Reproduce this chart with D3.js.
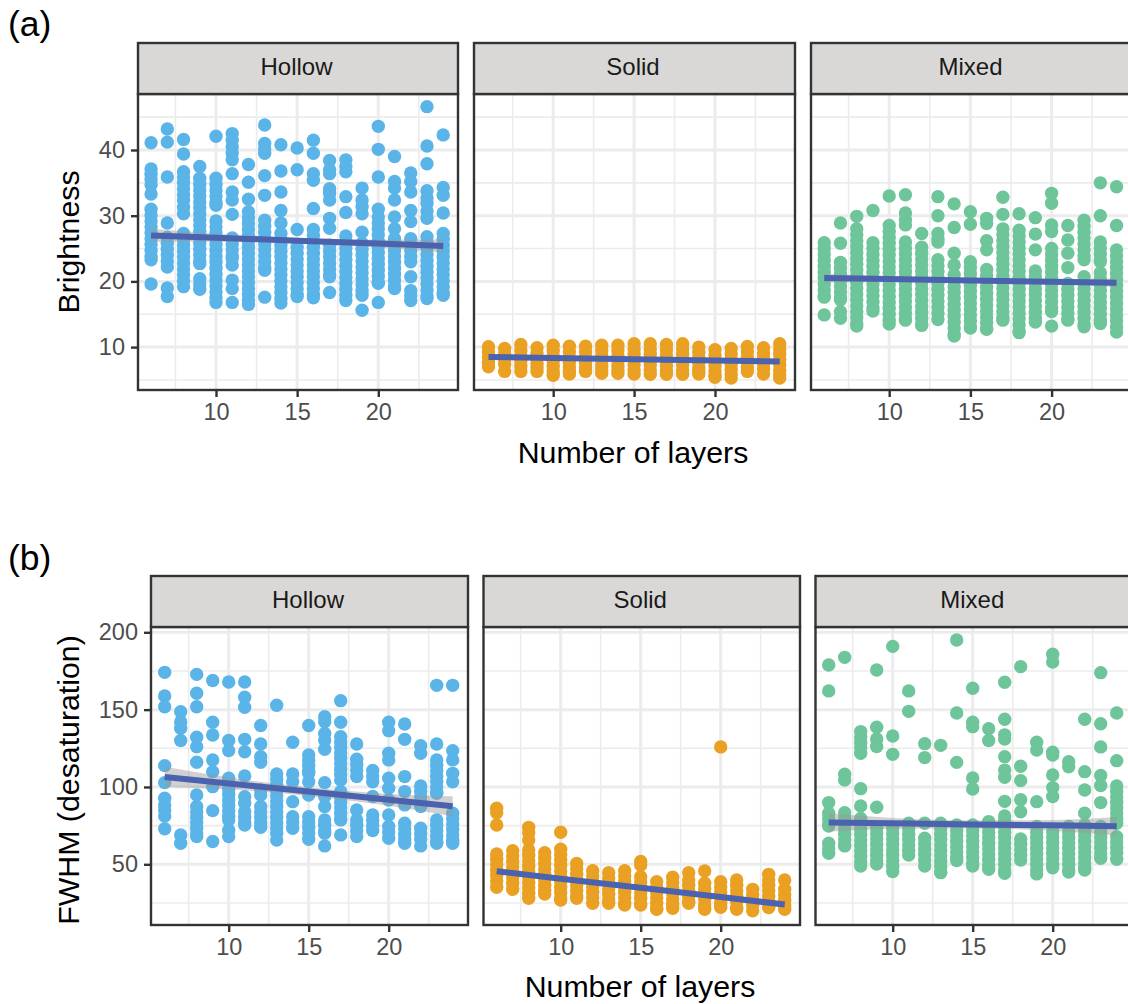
<!DOCTYPE html>
<html><head><meta charset="utf-8">
<script src="https://cdn.jsdelivr.net/npm/d3@7/dist/d3.min.js"></script>
<style>html,body{margin:0;padding:0;background:#fff}svg{display:block}text{font-family:"Liberation Sans",Arial,sans-serif}</style>
</head><body><svg id="c" width="1128" height="1004"></svg>
<script>
const layers=[6,7,8,9,10,11,12,13,14,15,16,17,18,19,20,21,22,23,24];
const xTicks=[10,15,20];
const xMinor=[7.5,12.5,17.5,22.5];
const brightnessTicks=[10,20,30,40];
const brightnessMinor=[5,15,25,35,45];
const fwhmTicks=[50,100,150,200];
const fwhmMinor=[25,75,125,175];
const shapes=["Hollow","Solid","Mixed"];
const shapeColors=["#5AB4E8","#E9A023","#6EC59A"];

const brightnessHollow=[
[41.1,37.1,36.3,35.5,34.7,33.3,31,30.1,29.2,28.3,27.4,26.5,25.6,24.7,23.8,23.3,19.6],
[43.2,41.2,35.9,28.9,26.7,25.8,24.9,24,23.1,22.2,19,17.7],
[41.6,39.4,36.7,35.9,35,34.1,33.2,32.4,31.3,30.3,27.3,26.4,25.5,24.6,23.7,22.8,21.9,21,20.1,19.2],
[37.5,35.7,34.8,33.9,33,32.1,31.2,30.3,29.4,28.5,27.6,26.7,25.8,24.9,24,23.1,22.7,20.4,19.6,18.8],
[42.1,35.7,34.8,33.9,33,32.1,31.6,29.2,28.3,27.4,26.5,25.6,24.7,23.8,22.9,22,21.1,20.2,19.3,18.4,17.5,16.8],
[42.5,41.5,40.5,39.5,38.5,36.4,33.6,32.4,30.2,26.6,25.7,24.8,23.9,23.5,22.5,20.2,18.9,16.8],
[37.8,35.1,32.5,30.6,29.7,28.8,27.9,27,26.1,25.2,24.3,23.4,22.5,21.6,20.7,19.8,18.9,18,17.1,16.5],
[43.8,41,40.2,39.5,36.1,33.1,29.3,28.4,27.5,26.6,25.7,24.8,23.9,23,22.1,21.7,17.6],
[40.8,36.8,33.6,30.8,28.9,27.3,26.4,25.5,24.6,23.7,22.8,21.9,21,20.1,19.2,18.3,17.4,16.7],
[40.3,37,27.9,25.2,24.3,23.4,22.5,21.6,20.7,19.8,18.9,18.1,17.7],
[41.5,39.5,36.4,35.4,31.1,27.9,27,26.1,25.2,24.3,23.4,22.5,21.6,20.7,19.8,18.9,18,17.5],
[38.4,37,36.4,34.1,33.4,32.4,29.6,28.1,25.5,24.6,23.7,22.8,21.9,21,20.7,18.3],
[38.5,37.5,36.7,32.9,30.5,26.9,26,25.1,24.2,23.3,22.4,21.5,20.6,19.7,18.8,17.9,17.1],
[34.2,32.4,31.4,30.3,27.5,25.8,24.9,24,23.1,22.2,21.3,20.4,19.5,18.6,17.9,15.6],
[43.6,40.1,35.9,31,29.8,28.9,28,27.1,26.2,25.3,24.4,23.5,22.6,21.7,20.8,19.9,19.7,16.8],
[39,35.2,34.2,32.4,29.8,28,26.5,25.6,24.7,23.8,22.9,22,21.1,20.2,19.3,18.9],
[36.5,35.2,33.6,30.8,29.1,26.5,25.6,24.7,23.8,23,20.7,18.6,17.8,17.1],
[46.6,40.6,37.9,33.8,32.7,31.9,30.7,29.6,26.8,25.9,25,24.1,23.2,22.3,21.4,20.5,19.6,18.7,17.8,17.4],
[42.3,34.3,33.1,30.4,27.3,26.4,25.5,24.6,23.7,22.8,21.9,21,20.1,19.2,18.3,17.9]];

const brightnessSolid=[
[10.06,9.3,8.5,7.7,7],
[9.8,9,8.2,7.4,6.3],
[10.4,9.5,8.7,7.9,7.1,6.3],
[9.9,9.1,8.3,7.5,6.9,6.3],
[10.3,9.5,8.7,7.9,7.1,6.3,5.7],
[10.15,9.3,8.5,7.7,6.9,6.3,5.9],
[10.15,9.3,8.5,7.7,6.9,6.3],
[10.3,9.5,8.7,7.9,7.1,6.5,6],
[10.3,9.5,8.7,7.9,7.1,6.5,6],
[10.5,9.7,8.9,8.1,7.3,6.5,5.9],
[10.5,9.7,8.9,8.1,7.3,6.5,5.85],
[10.4,9.6,8.8,8,7.2,6.4,5.85],
[10.5,9.7,8.9,8.1,7.3,6.5,5.85],
[10,9.2,8.4,7.6,6.8,6.3,5.9],
[9.6,8.8,8,7.2,6.4,5.8,5.4],
[9.8,9,8.2,7.4,6.6,5.9,5.3],
[10.1,9.3,8.5,7.7,6.9,6.3],
[9.9,9.1,8.3,7.5,6.7,5.9],
[10.5,9.7,8.9,8.1,7.3,6.5,5.8,5.3]];

const brightnessMixed=[
[25.9,25,24.1,23.2,22.3,21.4,20.5,19.6,18.7,17.8,17.6,14.9],
[28.9,25.8,22.9,22,21.1,20.2,19.3,18.4,17.5,17.2,15.4,14.4],
[29.9,28,27.1,26.2,25.3,24.4,23.5,22.6,21.7,20.8,19.9,19,18.1,17.2,16.3,15.4,14.5,13.6,13.2],
[30.8,25.9,25,24.1,23.2,22.3,21.4,20.5,19.6,18.7,17.8,16.9,16,15.5],
[33,28.5,27.6,26.7,25.8,24.9,24,23.1,22.2,21.3,20.4,19.5,18.6,17.7,16.8,15.9,15,14.1,13.5],
[33.2,30.4,29.4,28.6,26,25.1,24.2,23.3,22.4,21.5,20.6,19.7,18.8,17.9,17,16.1,15.2,14.3,14.1],
[27.3,25.2,24.3,23.4,22.5,21.6,20.7,19.8,18.9,18,17.1,16.2,15.3,14.4,13.5,13.3],
[32.9,30,27.3,26.4,26,23.3,22.4,21.5,20.6,19.7,18.8,17.9,17,16.1,15.2,14.2],
[31.8,28.2,24.3,22.5,21,20.1,19.2,18.3,17.4,16.5,15.6,14.7,13.8,12.9,12,11.7],
[30.6,28.7,23,22.1,21.2,20.3,19.4,18.5,17.6,16.7,15.8,14.9,14,13.1,12.9],
[29.6,28.8,26.2,24.8,21.8,20.9,20,19.1,18.2,17.3,16.4,15.5,14.6,13.7,12.8,12.7],
[32.8,30.2,28,27.1,26.2,25.3,24.4,23.5,22.6,21.7,20.8,19.9,19,18.1,17.2,16.3,15.4,14.5,14.1],
[30.3,27.8,26.9,26,25.1,24.2,23.3,22.4,21.5,20.6,19.7,18.8,17.9,17,16.1,15.2,14.3,13.4,12.5,12.2],
[29.7,27.2,24.8,21.6,20.7,19.8,18.9,18,17.1,16.2,15.3,14.4,13.8],
[33.4,31.9,28.6,27.6,25,24.1,23.2,22.3,21.4,20.5,19.6,18.7,17.8,16.9,16,15.4,13.2],
[28.5,26.3,24.3,22.1,19.7,18.8,17.9,17,16.1,15.2,14.3,14.1],
[29.3,28.4,27.5,26.6,25.7,24.8,23.9,23.3,20.7,19.8,18.9,18,17.1,16.2,15.3,14.4,13.5,13.1],
[35,30,26,25.1,24.2,23.3,23,21.3,20.4,19.5,18.6,17.7,16.8,15.9,15,14.1,13.6],
[34.4,28.5,24.8,23.9,23,22.1,21.2,20.3,19.4,18.5,17.6,16.7,15.8,14.9,14,13.1,12.3]];

const fwhmHollow=[
[174.1,158.8,151.9,113.8,102.8,92.7,88.4,85.1,81.3,73],
[148.7,142,137.9,130,69,63.6],
[172.8,160.6,151.9,132.1,126,116,94.8,87.3,83.8,80.3,76.8,73.3,69.8,67.9],
[168.8,141.8,133.6,117.5,109.9,100.2,84.7,64.7],
[167.9,130,123.5,105.6,102.1,98.6,95.1,91.6,88.1,84.6,81.1,78.7,72,67.9],
[167.9,158,151.5,130.8,122.8,107.1,93.7,89.4,84,80.5,77,75.4],
[139.7,127.8,119.6,115.9,98,94.8,87.3,83.8,80.3,76.8,73.9],
[152.8,108.4,104.9,101.4,97.9,94.4,90.9,87.4,83.9,80.4,76.9,73.4,69.9,65.7],
[128.9,108.4,103.4,90.5,80.8,77.3,73.3],
[139.7,120.7,117.2,113.7,110.2,108.8,103.4,94.8,80.8,77.3,73.8,70.3,66.2],
[145.4,142.2,134.6,130.3,124.4,102.8,93.7,87.3,78.7,75.2,71.7,70,61.9],
[155.8,141.8,132.5,129,125.5,122,118.5,115,111.5,108,104.5,97,93.5,90,86.5,83,79.5,78.7,69],
[127.8,118,114.5,111,106.7,85.1,78.7,75.2,71.7,67.9],
[110.6,107.1,103.4,93.8,81.9,78.4,74.9,71.8],
[141.8,136.4,121.8,117.5,105.6,99.1,91.6,81.9,74.4,70.9,66.8],
[140.7,130.8,106.7,97,88.4,76.5,73,69.5,66,63.6],
[126.7,121.8,100.6,97.1,93.6,90.1,87.3,73.3,69.8,66.3,61.9],
[165.7,127.8,117.5,114,110.5,107,103.5,100,96.5,95.9,78.7,75.2,71.7,68.2,64.7,63.6],
[165.7,123.5,117.5,108.8,103.4,83,79.5,76,72.5,69,65.5,63.6]];

const fwhmSolid=[
[86.2,83.4,75.4,56.7,53.2,49.7,46.2,42.7,39.2,35.1],
[58.8,55.3,51.8,48.3,44.8,41.3,37.8,33.8],
[73.9,70.4,65.7,59.3,55.8,52.3,48.8,45.3,41.8,38.3,34.8,31.3,28],
[57.5,54,50.5,47,43.5,40,36.5,33,30.8],
[70.7,59.7,56.2,52.7,49.2,45.7,42.2,38.7,35.2,31.7,28.2,26.9],
[50.6,47.1,43.6,40.1,36.6,33.1,29.6,28],
[45.9,42.4,38.9,35.4,31.9,28.4,24.8],
[44.6,41.1,37.6,34.1,30.6,27.1,24.8],
[45.9,42.4,38.9,35.4,31.9,28.4,24.9,23.7],
[51.8,49.6,42,38.5,35,31.5,28,24.5,23.7],
[38.8,35.3,31.8,28.3,24.8,21.3,20.9],
[41.6,38.1,34.6,31.1,27.6,24.1,21.6],
[44.6,39.9,36.4,32.9,29.4,25.9,24.8],
[45.7,37.7,34.2,30.7,27.2,23.7,20.9],
[125.9,38.8,35.3,31.8,28.3,24.8,22.2],
[39.9,36.4,32.9,29.4,25.9,22.4,20.9],
[33.8,30.3,26.8,23.3,20],
[43.5,39.9,36.4,32.9,29.4,25.9,22.4,22],
[39.9,33.8,30.3,26.8,23.3,20.9]];

const fwhmMixed=[
[178.9,162.1,89.9,83,79.5,76,74.8,63.6,60.1,57.1],
[183.8,108.2,104.5,83.4,79.9,76.4,72.9,69.4,65.9,62.4,61.9],
[135.8,132.3,128.8,125.3,121.8,98.9,87.7,79.7,76.2,72.7,69.2,65.7,62.2,58.7,55.2,51.7,48.9],
[175.6,138.6,131,126.1,86.9,73.3,69.8,66.3,62.8,59.3,55.8,52.3,50.2],
[190.9,133,121.1,73.3,69.8,66.3,62.8,59.3,55.8,52.3,48.8,45.3],
[162.1,148.9,76.5,73,69.5,66,62.5,59,56],
[128,119,76.5,66.8,63.3,59.8,56.3,52.8,48.9],
[126.9,76.5,73,69.5,66,62.5,59,55.5,52,48.5,45,44.6],
[195,147.8,115.9,75.4,71.9,68.4,64.9,61.4,57.9,54.4,52.4],
[163.8,141.8,139,105.8,98.7,75.4,71.9,68.4,64.9,61.4,57.9,54.4,50.9,48.9],
[137.7,130,77.6,74.1,70.6,67.1,63.6,60.1,56.6,53.1,49.6,46.8],
[167.7,143.8,133.7,131,119.6,110.9,106.3,90.7,81.3,77.8,74.3,70.8,67.3,63.8,60.3,56.8,53.3,49.8,46.3,44.2],
[177.8,113.4,104.1,91.8,84,66.4,62.9,59.4,55.9,52.8],
[128.9,123.9,90.5,74.4,70.9,67.4,63.9,60.4,56.9,53.4,49.9,46.4,43.8],
[185.8,180.8,122.4,120.7,107.8,99.6,93.8,71.1,67.6,64.1,60.6,57.1,53.6,50.1,47.8],
[116.3,113.1,74.4,70.9,67.4,63.9,60.4,56.9,53.4,49.9,46.4,45],
[143.8,109.9,98,83,75.4,71.9,68.4,64.9,61.4,57.9,54.4,50.9,47.4,46.3],
[173.9,140.9,125.9,107.4,100.9,89.9,74.4,70.9,67.4,63.9,60.4,56.9,53.9],
[147.8,117,100.6,97.1,93.6,90.1,86.6,83.1,79.6,76.5,67.9,64.4,60.9,57.4,53.2]];

const fitX=[6,10,15,20,24];
const brightnessFit=[[27,26.65,26.2,25.75,25.4],[8.5,8.35,8.15,7.95,7.8],[20.5,20.35,20.15,19.95,19.8]];
const brightnessBand=[[1,0.6,0.45,0.6,1],[0.25,0.15,0.12,0.15,0.25],[0.65,0.4,0.3,0.4,0.65]];
const fwhmFit=[[106.5,102.3,97,91.7,87.5],[45.5,40.7,34.8,28.8,24],[77,76.5,75.8,75.2,74.6]];
const fwhmBand=[[6.5,3.8,2.8,3.8,6.5],[2,1.3,1,1.3,2],[6,3.5,2.6,3.5,6]];

const rows=[
 {label:"(a)",labelY:36,title:"Brightness",titleCx:68,titleY:242,xTitle:[633,463],
  top:43,stripH:51,bottom:390,domainY:[40,20],rangeY:[150,281.4],
  ticks:brightnessTicks,minor:brightnessMinor,
  panels:[{l:138,r:458,x10:216,x20:378.3,d:brightnessHollow},{l:474,r:795,x10:553.2,x20:715,d:brightnessSolid},{l:811,r:1133,x10:889.2,x20:1051.6,d:brightnessMixed}],
  fit:brightnessFit,band:brightnessBand},
 {label:"(b)",labelY:570,title:"FWHM (desaturation)",titleCx:68,titleY:780,xTitle:[640,997],
  top:576,stripH:51,bottom:925,domainY:[200,50],rangeY:[632.3,864.3],
  ticks:fwhmTicks,minor:fwhmMinor,
  panels:[{l:151,r:468,x10:228.7,x20:388.7,d:fwhmHollow},{l:483.5,r:800,x10:560.7,x20:720.7,d:fwhmSolid},{l:815.5,r:1132,x10:892.7,x20:1052.7,d:fwhmMixed}],
  fit:fwhmFit,band:fwhmBand}
];

const svg=d3.select("#c");
rows.forEach(row=>{
  const panelTop=row.top+row.stripH;
  const y=d3.scaleLinear().domain(row.domainY).range(row.rangeY);
  svg.append("text").text(row.label).attr("x",8).attr("y",row.labelY).attr("font-size",35.5).attr("fill","#000");
  svg.append("text").text(row.title).attr("transform",`translate(79,${row.titleY}) rotate(-90)`)
     .attr("text-anchor","middle").attr("font-size",30.3).attr("fill","#000");
  svg.append("text").text("Number of layers").attr("x",row.xTitle[0]).attr("y",row.xTitle[1])
     .attr("text-anchor","middle").attr("font-size",30.3).attr("fill","#000");
  row.panels.forEach((p,i)=>{
    const x=d3.scaleLinear().domain([10,20]).range([p.x10,p.x20]);
    const g=svg.append("g");
    const clipId=`clip-${row.label[1]}-${i}`;
    svg.append("clipPath").attr("id",clipId).append("rect").attr("x",p.l).attr("y",panelTop).attr("width",p.r-p.l).attr("height",row.bottom-panelTop);
    const inner=g.append("g").attr("clip-path",`url(#${clipId})`);
    inner.append("g").selectAll("line").data(row.minor).join("line").attr("x1",p.l).attr("x2",p.r).attr("y1",y).attr("y2",y).attr("stroke","#ececec").attr("stroke-width",1.6);
    inner.append("g").selectAll("line").data(xMinor).join("line").attr("y1",panelTop).attr("y2",row.bottom).attr("x1",x).attr("x2",x).attr("stroke","#ececec").attr("stroke-width",1.6);
    inner.append("g").selectAll("line").data(row.ticks).join("line").attr("x1",p.l).attr("x2",p.r).attr("y1",y).attr("y2",y).attr("stroke","#ececec").attr("stroke-width",3);
    inner.append("g").selectAll("line").data(xTicks).join("line").attr("y1",panelTop).attr("y2",row.bottom).attr("x1",x).attr("x2",x).attr("stroke","#ececec").attr("stroke-width",3);
    const pts=p.d.flatMap((col,k)=>col.map(v=>[layers[k],v]));
    inner.append("g").selectAll("circle").data(pts).join("circle").attr("cx",d=>x(d[0])).attr("cy",d=>y(d[1])).attr("r",6.7).attr("fill",shapeColors[i]);
    const fit=row.fit[i],band=row.band[i];
    const area=d3.area().x((d,k)=>x(fitX[k])).y0((d,k)=>y(d-band[k])).y1((d,k)=>y(d+band[k])).curve(d3.curveMonotoneX);
    inner.append("path").attr("d",area(fit)).attr("fill","#999").attr("fill-opacity",0.45);
    const line=d3.line().x((d,k)=>x(fitX[k])).y(d=>y(d));
    inner.append("path").attr("d",line(fit)).attr("fill","none").attr("stroke","#4B63AE").attr("stroke-width",6);
    g.append("rect").attr("x",p.l).attr("y",panelTop).attr("width",p.r-p.l).attr("height",row.bottom-panelTop).attr("fill","none").attr("stroke","#333").attr("stroke-width",2.4);
    g.append("rect").attr("x",p.l).attr("y",row.top).attr("width",p.r-p.l).attr("height",row.stripH).attr("fill","#D9D8D7").attr("stroke","#333").attr("stroke-width",2.4);
    g.append("text").text(shapes[i]).attr("x",(p.l+p.r)/2-1.5).attr("y",row.top+row.stripH/2+6).attr("text-anchor","middle").attr("font-size",24).attr("fill","#1a1a1a");
    const ax=g.append("g").attr("transform",`translate(0,${row.bottom})`).call(d3.axisBottom(x).tickValues(xTicks).tickSize(7).tickPadding(6));
    ax.select(".domain").remove();
    ax.selectAll("line").attr("stroke","#333").attr("stroke-width",2.4);
    ax.selectAll("text").attr("font-size",23.5).attr("fill","#4d4d4d").attr("font-family",'"Liberation Sans",Arial,sans-serif');
    if(i===0){
      const ay=g.append("g").attr("transform",`translate(${p.l},0)`).call(d3.axisLeft(y).tickValues(row.ticks).tickSize(7).tickPadding(6));
      ay.select(".domain").remove();
      ay.selectAll("line").attr("stroke","#333").attr("stroke-width",2.4);
      ay.selectAll("text").attr("font-size",23.5).attr("fill","#4d4d4d").attr("font-family",'"Liberation Sans",Arial,sans-serif');
    }
  });
});
</script></body></html>
